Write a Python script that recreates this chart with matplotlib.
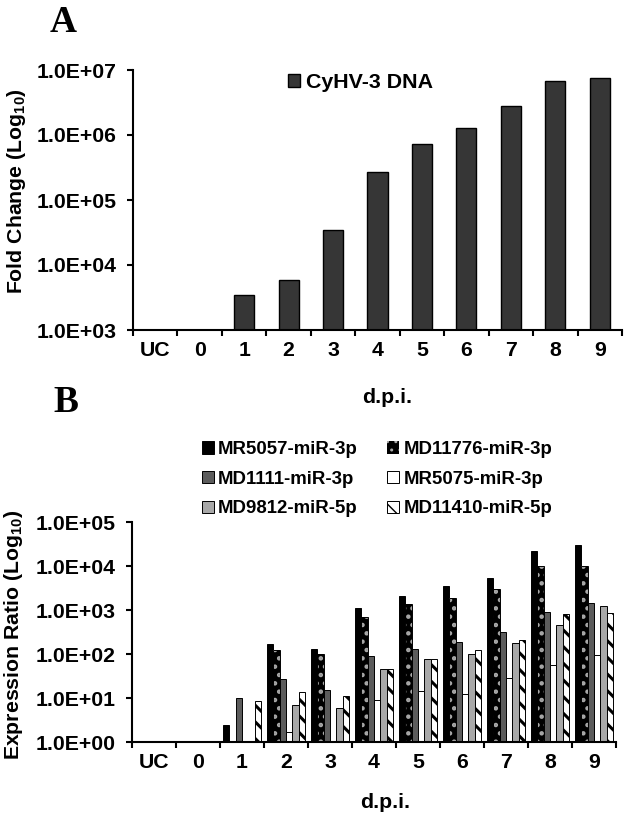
import numpy as np
import matplotlib
matplotlib.use('Agg')
import matplotlib.pyplot as plt
from matplotlib.ticker import FixedLocator, NullLocator, FuncFormatter

nan = np.nan

days = ['UC', '0', '1', '2', '3', '4', '5', '6', '7', '8', '9']

# panel A: viral DNA fold change
cyhv3_dna = [nan, nan, 3500, 5900, 35000, 270000, 720000, 1270000, 2800000, 6800000, 7600000]

# panel B: miRNA expression ratios
mr5057 = [nan, nan, 2.4, 172, 130, 1130, 2080, 3510, 5430, 21900, 29500]
md11776 = [nan, nan, nan, 125, 98, 690, 1390, 1840, 3050, 10000, 9800]
md1111 = [nan, nan, 10.2, 27.5, 14.9, 88, 132, 184, 311, 900, 1440]
mr5075 = [nan, nan, nan, 1.7, nan, 9.2, 14.2, 12.5, 28.5, 57, 93]
md9812 = [nan, nan, nan, 6.8, 6.0, 46, 77, 102, 178, 464, 1210]
md11410 = [nan, nan, 8.5, 13.7, 11.1, 46, 77, 121, 204, 798, 870]

plt.rcParams['font.family'] = ['Liberation Sans', 'DejaVu Sans']
plt.rcParams['font.weight'] = 'bold'
plt.rcParams['mathtext.fontset'] = 'custom'
plt.rcParams['mathtext.rm'] = 'Liberation Sans:bold'
plt.rcParams['mathtext.it'] = 'Liberation Sans:bold'
plt.rcParams['mathtext.bf'] = 'Liberation Sans:bold'

W, H = 625, 817
fig = plt.figure(figsize=(W / 100, H / 100), dpi=100)

axA = fig.add_axes([133 / W, 1 - 330 / H, 489 / W, 260 / H])
axB = fig.add_axes([132 / W, 1 - 742 / H, 484 / W, 220 / H])

x = np.arange(len(days))


def style_axis(ax, ymin, ymax):
    ax.set_yscale('log')
    ax.set_ylim(ymin, ymax)
    ax.set_xlim(-0.5, len(days) - 0.5)
    for s in ['top', 'right']:
        ax.spines[s].set_visible(False)
    for s in ['left', 'bottom']:
        ax.spines[s].set_linewidth(1.5)
    ax.yaxis.set_major_locator(FixedLocator(10.0 ** np.arange(np.log10(ymin), np.log10(ymax) + 1)))
    ax.yaxis.set_minor_locator(NullLocator())
    ax.yaxis.set_major_formatter(FuncFormatter(lambda v, p: f'{v:.1E}'))
    ax.set_xticks(x)
    ax.set_xticklabels(days)
    # ticks sit between the day groups
    ax.xaxis.set_minor_locator(FixedLocator(np.arange(-0.5, len(days), 1.0)))
    ax.tick_params(axis='x', which='major', length=0, pad=8, labelsize=15.3)
    ax.tick_params(axis='x', which='minor', length=4, width=1.5, direction='out')
    ax.tick_params(axis='y', which='major', length=4, width=1.5, pad=8, labelsize=15.3)


# ---- Panel A ----
style_axis(axA, 1e3, 1e7)
axA.bar(x, cyhv3_dna, width=0.45, color='#363636', edgecolor='black',
        linewidth=1.0, label='CyHV-3 DNA')
axA.legend(loc='center left', bbox_to_anchor=(288 / W, 1 - 83 / H),
           bbox_transform=fig.transFigure, frameon=False, fontsize=15.4,
           handlelength=0.56, handleheight=0.56, handletextpad=0.28,
           borderpad=0, borderaxespad=0)

# ---- Panel B ----
style_axis(axB, 1e0, 1e5)
w = 0.143
off = (np.arange(6) - 2.5) * w

hB = []
hB.append(axB.bar(x + off[0], mr5057, width=w, color='black', edgecolor='black',
                  linewidth=0.7, label='MR5057-miR-3p'))
with plt.rc_context({'hatch.linewidth': 2.0}):
    b = axB.bar(x + off[1], md11776, width=w, color='black', edgecolor='#a8a8a8',
                linewidth=0, hatch='..', label='MD11776-miR-3p')
hB.append(b)
# black outline over the dotted bars
axB.bar(x + off[1], md11776, width=w, fill=False, edgecolor='black', linewidth=0.7)
hB.append(axB.bar(x + off[2], md1111, width=w, color='#5c5c5c', edgecolor='black',
                  linewidth=0.7, label='MD1111-miR-3p'))
hB.append(axB.bar(x + off[3], mr5075, width=w, color='white', edgecolor='black',
                  linewidth=0.7, label='MR5075-miR-3p'))
hB.append(axB.bar(x + off[4], md9812, width=w, color='#a8a8a8', edgecolor='black',
                  linewidth=0.7, label='MD9812-miR-5p'))
with plt.rc_context({'hatch.linewidth': 2.2}):
    b = axB.bar(x + off[5], md11410, width=w, color='white', edgecolor='black',
                linewidth=0.7, hatch='\\\\', label='MD11410-miR-5p')
hB.append(b)

# legend reads row by row
order = [0, 2, 4, 1, 3, 5]
axB.legend([hB[i] for i in order], [hB[i].get_label() for i in order],
           ncol=2, loc='upper left', bbox_to_anchor=(202 / W, 1 - 441 / H),
           bbox_transform=fig.transFigure, frameon=False, fontsize=13.4,
           handlelength=0.63, handleheight=0.63, handletextpad=0.22,
           columnspacing=1.6, labelspacing=0.68, borderpad=0, borderaxespad=0)

# axis titles
fig.text(17 / W, 1 - 191 / H, 'Fold Change (Log$_{10}$)', rotation=90,
         ha='center', va='center', fontsize=15.3)
fig.text(14 / W, 1 - 635 / H, 'Expression Ratio (Log$_{10}$)', rotation=90,
         ha='center', va='center', fontsize=15.3)
fig.text(387 / W, 1 - 397 / H, 'd.p.i.', ha='center', va='center', fontsize=15.3)
fig.text(385 / W, 1 - 802 / H, 'd.p.i.', ha='center', va='center', fontsize=15.3)

# panel letters
fig.text(50 / W, 1 - 32 / H, 'A', family='Liberation Serif', fontsize=27,
         fontweight='bold', va='baseline', ha='left')
fig.text(53 / W, 1 - 412 / H, 'B', family='Liberation Serif', fontsize=27,
         fontweight='bold', va='baseline', ha='left')

fig.savefig('out.png', dpi=100)
